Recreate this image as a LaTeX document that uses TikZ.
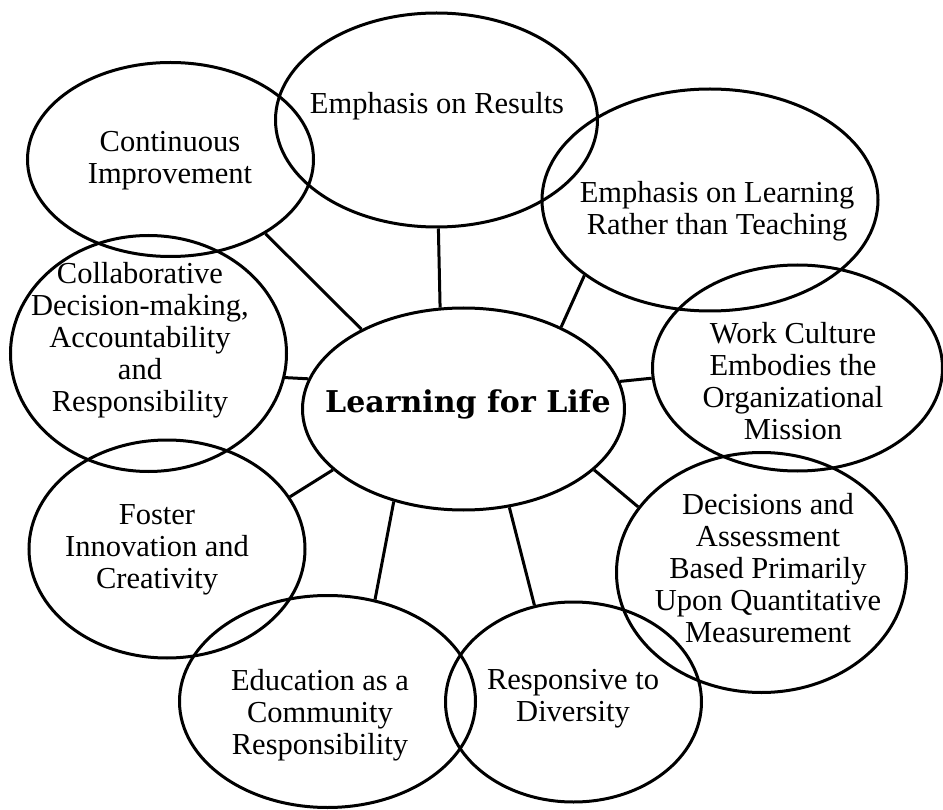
\documentclass[tikz,border=0pt]{standalone}
\usepackage{fontspec}
\setmainfont{Liberation Serif}
\newfontfamily\hubfont{DejaVu Serif}
\usepackage{tikz}
\usetikzlibrary{shapes.geometric}

\tikzset{
	bubble/.style={ellipse, draw, line width=3pt, inner sep=0pt},
	bubbletext/.style={align=center, inner sep=0pt, font=\fontsize{30.5}{32}\selectfont},
	link/.style={line width=3pt}
}

\begin{document}
\begin{tikzpicture}[x=1pt, y=-1pt]

\useasboundingbox (0,0) rectangle (943,810);

% outer bubbles
\node[bubble, minimum width=322pt, minimum height=214pt] (res)   at (436.5,120) {};
\node[bubble, minimum width=286pt, minimum height=194pt] (cont)  at (170.5,159.5) {};
\node[bubble, minimum width=336pt, minimum height=222pt] (teach) at (710,200) {};
\node[bubble, minimum width=290pt, minimum height=206pt] (work)  at (797.5,368) {};
\node[bubble, minimum width=290pt, minimum height=240pt] (dec)   at (761.5,572.5) {};
\node[bubble, minimum width=256pt, minimum height=200pt] (resp)  at (573.5,702) {};
\node[bubble, minimum width=296pt, minimum height=212pt] (edu)   at (327.5,701.5) {};
\node[bubble, minimum width=276pt, minimum height=218pt] (fost)  at (167,549) {};
\node[bubble, minimum width=276pt, minimum height=236pt] (coll)  at (148.5,353.5) {};

% hub
\node[bubble, minimum width=322pt, minimum height=202pt] (learn) at (463.5,409) {};

% texts
\node[bubbletext] (resT)   at (437,106) {Emphasis on Results};
\node[bubbletext] (contT)  at (170,161) {Continuous\\Improvement};
\node[bubbletext] (teachT) at (717,211) {Emphasis on Learning\\Rather than Teaching};
\node[bubbletext] (workT)  at (793,381) {Work Culture\\Embodies the\\Organizational\\Mission};
\node[bubbletext] (decT)   at (768,568) {Decisions and\\Assessment\\Based Primarily\\Upon Quantitative\\Measurement};
\node[bubbletext] (respT)  at (573,699) {Responsive to\\Diversity};
\node[bubbletext] (eduT)   at (320,715) {Education as a\\Community\\Responsibility};
\node[bubbletext] (fostT)  at (157,550) {Foster\\Innovation and\\Creativity};
\node[bubbletext] (collT)  at (140,340) {Collaborative\\Decision-making,\\Accountability\\and\\Responsibility};
\node[inner sep=0pt, font=\hubfont\bfseries\fontsize{30}{32}\selectfont] (learnT) at (468,404) {Learning for Life};

% spokes
\draw[link] (learn.103.6) -- (res.271.3);
\draw[link] (learn.40.5)  -- (teach.211.8);
\draw[link] (learn.10.3)  -- (work.184);
\draw[link] (learn.335.5) -- (dec.152.4);
\draw[link] (learn.295.8) -- (resp.112.7);
\draw[link] (learn.233.8) -- (edu.65.9);
\draw[link] (learn.205)   -- (fost.23.4);
\draw[link] (learn.169.6) -- (coll.350.4);
\draw[link] (learn.142.6) -- (cont.322.1);

\end{tikzpicture}
\end{document}
